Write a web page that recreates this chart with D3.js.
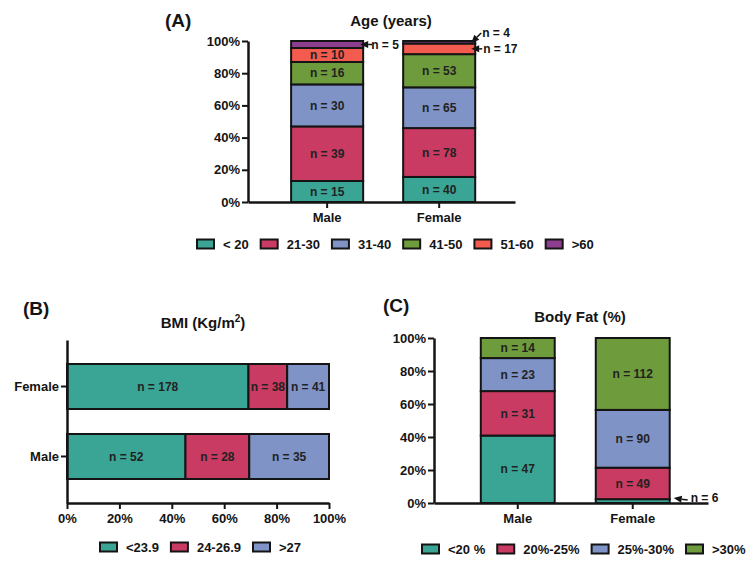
<!DOCTYPE html>
<html>
<head>
<meta charset="utf-8">
<script src="https://cdn.jsdelivr.net/npm/d3@7/dist/d3.min.js"></script>
<style>
  html, body { margin: 0; padding: 0; background: #fff; }
  svg { display: block; font-family: "Liberation Sans", Arial, sans-serif; }
</style>
</head>
<body>
<svg id="chart" width="753" height="567"></svg>
<script>
// ---------------- DATA ----------------
const sexes = ["Male", "Female"];
const percentTicks = [0, 20, 40, 60, 80, 100];

const ageGroups = ["< 20", "21-30", "31-40", "41-50", "51-60", ">60"];
const ageMale = [15, 39, 30, 16, 10, 5];
const ageFemale = [40, 78, 65, 53, 17, 4];

const bmiGroups = ["<23.9", "24-26.9", ">27"];
const bmiMale = [52, 28, 35];
const bmiFemale = [178, 38, 41];

const fatGroups = ["<20 %", "20%-25%", "25%-30%", ">30%"];
const fatMale = [47, 31, 23, 14];
const fatFemale = [6, 49, 90, 112];

const palette = ["#3aa595", "#c93b62", "#7f93c7", "#6e9b3b", "#f25b4e", "#8e3e8e"];

// ---------------- HELPERS ----------------
const svg = d3.select("#chart");
const FONT = '"Liberation Sans", Arial, sans-serif';
const INK = "#141414";

function buildStack(groups, maleVals, femaleVals) {
  const rows = sexes.map((s, i) => {
    const vals = i === 0 ? maleVals : femaleVals;
    const tot = d3.sum(vals);
    const r = { sex: s, total: tot };
    groups.forEach((g, j) => { r[g] = vals[j] / tot * 100; r["n_" + g] = vals[j]; });
    return r;
  });
  return d3.stack().keys(groups)(rows);
}

function styleAxis(g) {
  g.select(".domain").attr("stroke", INK).attr("stroke-width", 2.5);
  g.selectAll(".tick line").attr("stroke", INK).attr("stroke-width", 2);
  g.selectAll(".tick text").attr("fill", INK).attr("font-size", 13)
    .attr("font-weight", "bold").attr("font-family", FONT);
}

function legend(groups, x0, yc) {
  const lg = svg.append("g");
  let x = x0;
  groups.forEach((g, i) => {
    lg.append("rect").attr("x", x).attr("y", yc - 4.5).attr("width", 17).attr("height", 9)
      .attr("fill", palette[i]).attr("stroke", INK).attr("stroke-width", 2);
    const t = lg.append("text").attr("x", x + 26).attr("y", yc).attr("dy", "0.35em")
      .attr("font-size", 13).attr("font-weight", "bold").attr("fill", INK).text(g);
    x += 26 + t.node().getComputedTextLength() + 12;
  });
}

function heading(txt, x, y, size, anchor) {
  return svg.append("text").attr("x", x).attr("y", y).attr("font-size", size)
    .attr("font-weight", "bold").attr("fill", INK).attr("text-anchor", anchor || "start").text(txt);
}

function arrow(x1, y1, x2, y2) {
  // line from (x1,y1) to tip (x2,y2) with a filled head
  const ang = Math.atan2(y2 - y1, x2 - x1);
  const L = 8, W = 3.5;
  const bx = x2 - L * Math.cos(ang), by = y2 - L * Math.sin(ang);
  svg.append("line").attr("x1", x1).attr("y1", y1).attr("x2", bx).attr("y2", by)
    .attr("stroke", INK).attr("stroke-width", 1.5);
  const p = [[x2, y2],
    [bx + W * Math.sin(ang), by - W * Math.cos(ang)],
    [bx - W * Math.sin(ang), by + W * Math.cos(ang)]];
  svg.append("polygon").attr("points", p.map(d => d.join(",")).join(" ")).attr("fill", INK);
}

function segLabel(x, y, txt) {
  svg.append("text").attr("x", x).attr("y", y).attr("dy", "0.35em").attr("text-anchor", "middle")
    .attr("font-size", 12).attr("font-weight", "bold").attr("fill", "#222").text(txt);
}

const SMALL = 7; // percent below which the label is placed outside

// ---------------- PANEL A : Age ----------------
(function () {
  const stack = buildStack(ageGroups, ageMale, ageFemale);
  const x = d3.scaleBand().domain(sexes).range([248, 515]).paddingInner(0.357).paddingOuter(0.37).align(0.52);
  const y = d3.scaleLinear().domain([0, 100]).range([202, 41]);

  stack.forEach((layer, i) => {
    layer.forEach(d => {
      svg.append("rect").attr("x", x(d.data.sex)).attr("width", x.bandwidth())
        .attr("y", y(d[1])).attr("height", y(d[0]) - y(d[1]))
        .attr("fill", palette[i]).attr("stroke", INK).attr("stroke-width", 2);
    });
  });
  stack.forEach(layer => {
    layer.forEach(d => {
      const n = d.data["n_" + layer.key];
      if (d[1] - d[0] >= SMALL) segLabel(x(d.data.sex) + x.bandwidth() / 2, y((d[0] + d[1]) / 2), "n = " + n);
    });
  });

  // external annotations
  const right = s => x(s) + x.bandwidth();
  const m5 = stack[5][0];
  arrow(right("Male") + 9, y((m5[0] + m5[1]) / 2), right("Male") - 3, y((m5[0] + m5[1]) / 2));
  heading("n = " + m5.data["n_>60"], right("Male") + 8, y((m5[0] + m5[1]) / 2) + 4.5, 12, "start");
  const f17 = stack[4][1];
  const yf17 = y((f17[0] + f17[1]) / 2);
  arrow(right("Female") + 7, yf17, right("Female") - 4, yf17);
  heading("n = " + f17.data["n_51-60"], right("Female") + 8, yf17 + 4.5, 12, "start");
  const f4 = stack[5][1];
  arrow(right("Female") + 6, y(f4[1]) - 8, right("Female") - 4, y(f4[1]) + 2);
  heading("n = " + f4.data["n_>60"], right("Female") + 7, y(f4[1]) - 4, 12, "start");

  const gy = svg.append("g").attr("transform", "translate(248,0)")
    .call(d3.axisLeft(y).tickValues(percentTicks).tickFormat(d => d + "%").tickSize(6).tickSizeOuter(0).tickPadding(2));
  styleAxis(gy);
  const gx = svg.append("g").attr("transform", "translate(0,202)")
    .call(d3.axisBottom(x).tickSize(6).tickSizeOuter(0).tickPadding(5));
  styleAxis(gx);

  heading("(A)", 165, 27, 19);
  heading("Age (years)", 391, 26, 15, "middle");
  legend(ageGroups, 197, 244);
})();

// ---------------- PANEL B : BMI ----------------
(function () {
  const stack = buildStack(bmiGroups, bmiMale, bmiFemale);
  const x = d3.scaleLinear().domain([0, 100]).range([67, 329]);
  const y = d3.scaleBand().domain(["Female", "Male"]).range([340, 503]).paddingInner(0.357).paddingOuter(0.343);

  stack.forEach((layer, i) => {
    layer.forEach(d => {
      svg.append("rect").attr("y", y(d.data.sex)).attr("height", y.bandwidth())
        .attr("x", x(d[0])).attr("width", x(d[1]) - x(d[0]))
        .attr("fill", palette[i]).attr("stroke", INK).attr("stroke-width", 2);
    });
  });
  stack.forEach(layer => {
    layer.forEach(d => {
      segLabel(x((d[0] + d[1]) / 2), y(d.data.sex) + y.bandwidth() / 2, "n = " + d.data["n_" + layer.key]);
    });
  });

  const gy = svg.append("g").attr("transform", "translate(67,0)")
    .call(d3.axisLeft(y).tickSize(6).tickSizeOuter(0).tickPadding(2));
  styleAxis(gy);
  const gx = svg.append("g").attr("transform", "translate(0,503)")
    .call(d3.axisBottom(x).tickValues(percentTicks).tickFormat(d => d + "%").tickSize(6).tickSizeOuter(0).tickPadding(5));
  styleAxis(gx);

  heading("(B)", 23, 315, 19);
  const t = heading("BMI (Kg/m", 203, 328, 15, "middle");
  t.append("tspan").attr("font-size", 10).attr("dy", -6).text("2");
  t.append("tspan").attr("dy", 6).text(")");
  legend(bmiGroups, 100, 547);
})();

// ---------------- PANEL C : Body fat ----------------
(function () {
  const stack = buildStack(fatGroups, fatMale, fatFemale);
  const x = d3.scaleBand().domain(sexes).range([434, 708]).paddingInner(0.357).paddingOuter(0.37).align(0.55);
  const y = d3.scaleLinear().domain([0, 100]).range([503, 338]);

  stack.forEach((layer, i) => {
    layer.forEach(d => {
      svg.append("rect").attr("x", x(d.data.sex)).attr("width", x.bandwidth())
        .attr("y", y(d[1])).attr("height", y(d[0]) - y(d[1]))
        .attr("fill", palette[i]).attr("stroke", INK).attr("stroke-width", 2);
    });
  });
  stack.forEach(layer => {
    layer.forEach(d => {
      if (d[1] - d[0] >= SMALL) segLabel(x(d.data.sex) + x.bandwidth() / 2, y((d[0] + d[1]) / 2), "n = " + d.data["n_" + layer.key]);
    });
  });

  const f6 = stack[0][1];
  const r = x("Female") + x.bandwidth();
  arrow(r + 18, y((f6[0] + f6[1]) / 2) - 1, r + 4, y((f6[0] + f6[1]) / 2) - 3);
  heading("n = " + f6.data["n_<20 %"], r + 21, y((f6[0] + f6[1]) / 2) + 1, 12, "start");

  const gy = svg.append("g").attr("transform", "translate(434,0)")
    .call(d3.axisLeft(y).tickValues(percentTicks).tickFormat(d => d + "%").tickSize(6).tickSizeOuter(0).tickPadding(2));
  styleAxis(gy);
  const gx = svg.append("g").attr("transform", "translate(0,503)")
    .call(d3.axisBottom(x).tickSize(6).tickSizeOuter(0).tickPadding(5));
  styleAxis(gx);

  heading("(C)", 383, 312, 19);
  heading("Body Fat (%)", 580, 322, 15, "middle");
  legend(fatGroups, 422, 549);
})();
</script>
</body>
</html>
